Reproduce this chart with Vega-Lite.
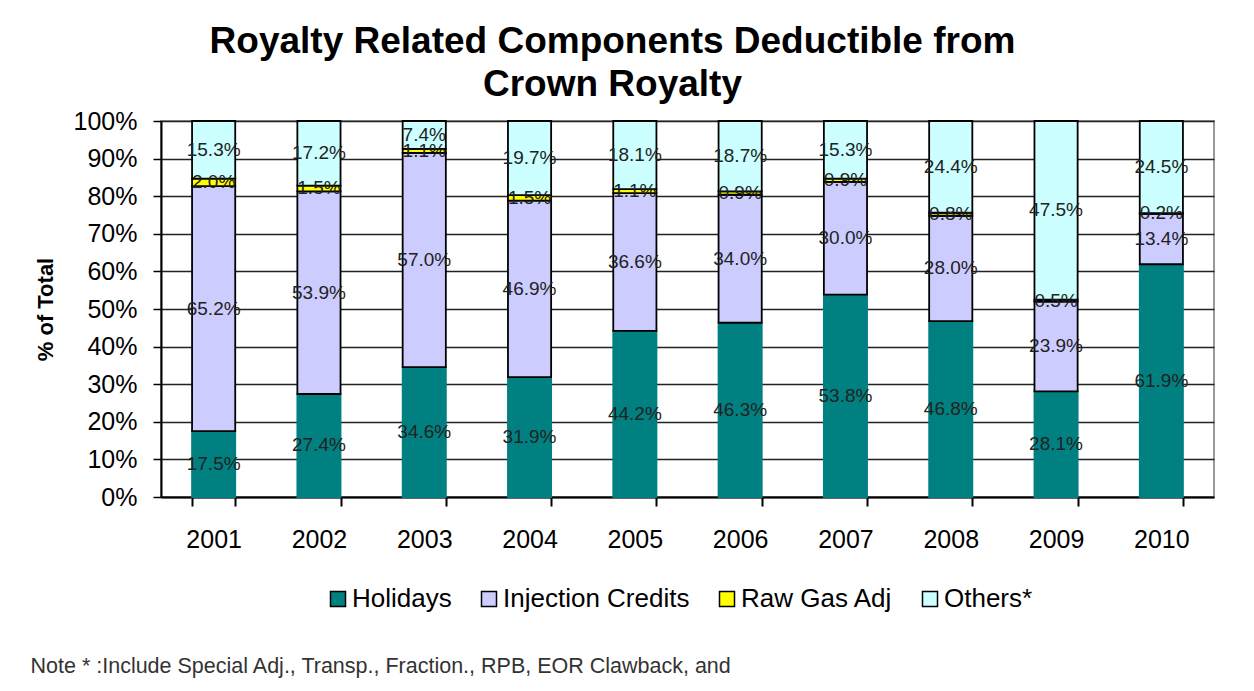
{
  "$schema": "https://vega.github.io/schema/vega-lite/v6.json",
  "autosize": {"type": "none"},
  "width": 1053,
  "height": 376,
  "padding": {"left": 161, "top": 121, "right": 40, "bottom": 194},
  "background": "white",
  "config": {
    "font": "Liberation Sans",
    "view": {"stroke": "#999999", "strokeWidth": 2},
    "axisBand": {"ticks": true, "tickBand": "extent", "tickSize": 9, "tickWidth": 2, "tickColor": "#000000"},
    "axisX": {"ticks": true, "tickSize": 9, "tickWidth": 2, "tickColor": "#000000"},
    "axisY": {
      "format": ".0%",
      "values": [0, 0.1, 0.2, 0.3, 0.4, 0.5, 0.6, 0.7, 0.8, 0.9, 1.0],
      "labelOverlap": false,
      "grid": true,
      "gridColor": "#222222",
      "gridWidth": 1.5,
      "labelFontSize": 25,
      "labelColor": "#000000",
      "labelPadding": 16,
      "tickSize": 8,
      "tickColor": "#000000",
      "tickWidth": 1.5,
      "domainColor": "#000000",
      "domainWidth": 2,
      "titleFontSize": 22,
      "titleFontWeight": "bold",
      "titleColor": "#000000",
      "titleAngle": -90,
      "titleAlign": "center",
      "titleBaseline": "middle",
      "titleX": -116,
      "titleY": 188
    }
  },
  "title": {
    "text": ["Royalty Related Components Deductible from", "Crown Royalty"],
    "font": "Liberation Sans",
    "fontSize": 37,
    "fontWeight": "bold",
    "color": "#000000",
    "anchor": "middle",
    "frame": "group",
    "dx": -75,
    "lineHeight": 43,
    "offset": 5
  },
  "data": {
    "values": [
      {"year": "2001", "component": "Holidays", "value": 17.5},
      {"year": "2001", "component": "Injection Credits", "value": 65.2},
      {"year": "2001", "component": "Raw Gas Adj", "value": 2.0},
      {"year": "2001", "component": "Others*", "value": 15.3},
      {"year": "2002", "component": "Holidays", "value": 27.4},
      {"year": "2002", "component": "Injection Credits", "value": 53.9},
      {"year": "2002", "component": "Raw Gas Adj", "value": 1.5},
      {"year": "2002", "component": "Others*", "value": 17.2},
      {"year": "2003", "component": "Holidays", "value": 34.6},
      {"year": "2003", "component": "Injection Credits", "value": 57.0},
      {"year": "2003", "component": "Raw Gas Adj", "value": 1.1},
      {"year": "2003", "component": "Others*", "value": 7.4},
      {"year": "2004", "component": "Holidays", "value": 31.9},
      {"year": "2004", "component": "Injection Credits", "value": 46.9},
      {"year": "2004", "component": "Raw Gas Adj", "value": 1.5},
      {"year": "2004", "component": "Others*", "value": 19.7},
      {"year": "2005", "component": "Holidays", "value": 44.2},
      {"year": "2005", "component": "Injection Credits", "value": 36.6},
      {"year": "2005", "component": "Raw Gas Adj", "value": 1.1},
      {"year": "2005", "component": "Others*", "value": 18.1},
      {"year": "2006", "component": "Holidays", "value": 46.3},
      {"year": "2006", "component": "Injection Credits", "value": 34.0},
      {"year": "2006", "component": "Raw Gas Adj", "value": 0.9},
      {"year": "2006", "component": "Others*", "value": 18.7},
      {"year": "2007", "component": "Holidays", "value": 53.8},
      {"year": "2007", "component": "Injection Credits", "value": 30.0},
      {"year": "2007", "component": "Raw Gas Adj", "value": 0.9},
      {"year": "2007", "component": "Others*", "value": 15.3},
      {"year": "2008", "component": "Holidays", "value": 46.8},
      {"year": "2008", "component": "Injection Credits", "value": 28.0},
      {"year": "2008", "component": "Raw Gas Adj", "value": 0.8},
      {"year": "2008", "component": "Others*", "value": 24.4},
      {"year": "2009", "component": "Holidays", "value": 28.1},
      {"year": "2009", "component": "Injection Credits", "value": 23.9},
      {"year": "2009", "component": "Raw Gas Adj", "value": 0.5},
      {"year": "2009", "component": "Others*", "value": 47.5},
      {"year": "2010", "component": "Holidays", "value": 61.9},
      {"year": "2010", "component": "Injection Credits", "value": 13.4},
      {"year": "2010", "component": "Raw Gas Adj", "value": 0.2},
      {"year": "2010", "component": "Others*", "value": 24.5}
    ]
  },
  "transform": [
    {"calculate": "indexof(['Holidays','Injection Credits','Raw Gas Adj','Others*'], datum.component)", "as": "ord"},
    {"stack": "value", "groupby": ["year"], "sort": [{"field": "ord", "order": "ascending"}], "offset": "normalize", "as": ["y0", "y1"]},
    {"calculate": "(datum.y0 + datum.y1) / 2", "as": "mid"},
    {"calculate": "format(datum.value, '.1f') + '%'", "as": "label"}
  ],
  "encoding": {
    "x": {
      "field": "year",
      "type": "ordinal",
      "scale": {"paddingInner": 0.59, "paddingOuter": 0.295},
      "axis": {
        "tickBand": "extent",
        "labelAngle": 0,
        "labelFontSize": 25,
        "labelColor": "#000000",
        "labelPadding": 21,
        "tickSize": 9,
        "tickColor": "#000000",
        "tickWidth": 2,
        "ticks": true,
        "domainColor": "#000000",
        "domainWidth": 2,
        "title": "Note * :Include Special Adj., Transp., Fraction.,  RPB, EOR Clawback, and",
        "titleFontSize": 21.5,
        "titleFontWeight": "normal",
        "titleColor": "#333333",
        "titleAnchor": "start",
        "titleAlign": "left",
        "titleBaseline": "alphabetic",
        "titleX": -131,
        "titleY": 175
      }
    }
  },
  "layer": [
    {
      "mark": {"type": "bar", "strokeWidth": 1.8},
      "encoding": {
        "y": {
          "field": "y0",
          "type": "quantitative",
          "scale": {"domain": [0, 1], "nice": false},
          "title": "% of Total"
        },
        "y2": {"field": "y1"},
        "color": {
          "field": "component",
          "type": "nominal",
          "sort": ["Holidays", "Injection Credits", "Raw Gas Adj", "Others*"],
          "scale": {
            "domain": ["Holidays", "Injection Credits", "Raw Gas Adj", "Others*"],
            "range": ["#008080", "#CCCCFF", "#FFFF00", "#CCFFFF"]
          },
          "legend": {
            "orient": "none",
            "legendX": 164,
            "legendY": 465,
            "direction": "horizontal",
            "columns": 4,
            "title": null,
            "padding": 0,
            "symbolType": "square",
            "symbolSize": 225,
            "symbolStrokeColor": "#000000",
            "symbolStrokeWidth": 1.5,
            "symbolOpacity": 1,
            "labelFontSize": 26,
            "labelLimit": 400,
            "labelColor": "#000000",
            "labelOffset": 1,
            "columnPadding": 24
          }
        },
        "stroke": {
          "condition": {"test": "datum.component === 'Holidays'", "value": "#008080"},
          "value": "#000000"
        }
      }
    },
    {
      "mark": {"type": "text", "fontSize": 19, "color": "#222222", "baseline": "middle", "align": "center"},
      "encoding": {
        "y": {"field": "mid", "type": "quantitative", "title": "% of Total"},
        "text": {"field": "label"}
      }
    }
  ]
}
